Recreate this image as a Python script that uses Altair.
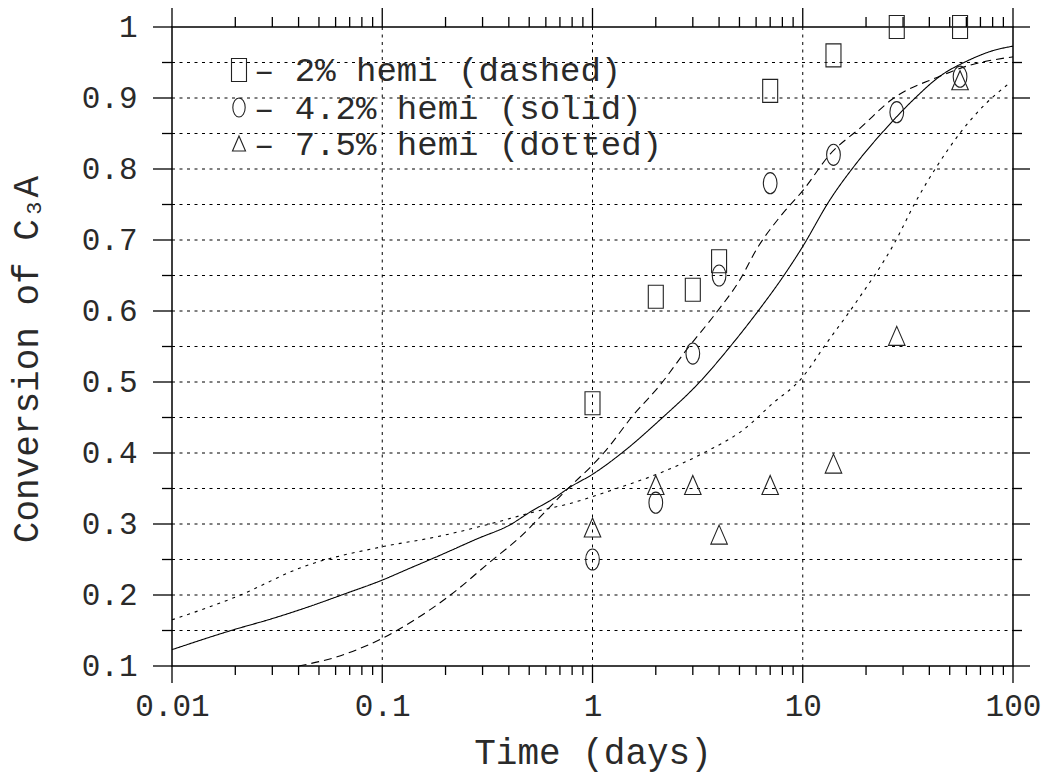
import altair as alt
import pandas as pd

# ---------------- tick / grid values ----------------
x_major = [0.01, 0.1, 1, 10, 100]
x_minor = [0.02, 0.03, 0.04, 0.05, 0.06, 0.07, 0.08, 0.09,
           0.2, 0.3, 0.4, 0.5, 0.6, 0.7, 0.8, 0.9,
           2, 3, 4, 5, 6, 7, 8, 9,
           20, 30, 40, 50, 60, 70, 80, 90]
x_grid = [0.1, 1, 10]
y_major = [0.1, 0.2, 0.3, 0.4, 0.5, 0.6, 0.7, 0.8, 0.9, 1.0]
y_minor = [0.15, 0.25, 0.35, 0.45, 0.55, 0.65, 0.75, 0.85, 0.95]
y_grid = [0.15, 0.2, 0.25, 0.3, 0.35, 0.4, 0.45, 0.5, 0.55, 0.6,
          0.65, 0.7, 0.75, 0.8, 0.85, 0.9, 0.95]

# ---------------- measured points ----------------
series = ["2% hemi", "4.2% hemi", "7.5% hemi"]
days = [1, 2, 3, 4, 7, 14, 28, 56]
conv_2 = [0.47, 0.62, 0.63, 0.67, 0.91, 0.96, 1.0, 1.0]
conv_42 = [0.25, 0.33, 0.54, 0.65, 0.78, 0.82, 0.88, 0.93]
conv_75 = [0.295, 0.355, 0.355, 0.285, 0.355, 0.385, 0.565, 0.925]

# ---------------- model curves ----------------
t_dashed = [0.04, 0.061, 0.1, 0.146, 0.211, 0.327, 0.454, 0.608, 0.783, 1.0,
            1.13, 1.57, 2.10, 2.81, 3.77, 5.05, 6.06, 7.81, 10.1, 13.5,
            18.8, 27.1, 43.5, 60.4, 100]
v_dashed = [0.100, 0.113, 0.139, 0.167, 0.200, 0.247, 0.282, 0.320, 0.353, 0.383,
            0.400, 0.454, 0.496, 0.546, 0.593, 0.645, 0.688, 0.733, 0.771, 0.821,
            0.858, 0.900, 0.929, 0.945, 0.958]

t_solid = [0.01, 0.0196, 0.0294, 0.0423, 0.0655, 0.1, 0.136, 0.182, 0.282, 0.406,
           0.506, 0.653, 0.783, 1.0, 1.46, 2.10, 3.26, 4.52, 6.28, 7.96,
           9.91, 13.5, 18.1, 25.2, 33.7, 45.1, 60.4, 80.9, 100]
v_solid = [0.123, 0.151, 0.166, 0.181, 0.201, 0.221, 0.238, 0.254, 0.279, 0.299,
           0.317, 0.336, 0.352, 0.370, 0.406, 0.447, 0.501, 0.550, 0.604, 0.646,
           0.689, 0.757, 0.809, 0.859, 0.898, 0.931, 0.952, 0.967, 0.973]

t_dotted = [0.01, 0.0204, 0.0423, 0.1, 0.182, 0.315, 0.544, 0.783, 1.3, 2.10,
            3.37, 5.23, 7.27, 9.73, 13.0, 18.1, 27.1, 34.9, 43.5, 56.1,
            69.8, 97.0]
v_dotted = [0.165, 0.198, 0.240, 0.268, 0.282, 0.299, 0.318, 0.329, 0.350, 0.372,
            0.400, 0.433, 0.471, 0.503, 0.555, 0.614, 0.694, 0.757, 0.804, 0.851,
            0.884, 0.922]

legend_labels = ["– 2% hemi (dashed)", "– 4.2% hemi (solid)", "– 7.5% hemi (dotted)"]

# ---------------- styling ----------------
W, H = 841, 639
FONT = "Liberation Mono"
INK = "#2a2a2a"
RECT = "M-0.652,-1L0.652,-1L0.652,1L-0.652,1Z"
ELLIPSE = "M-0.65,0A0.65,1 0 1,1 0.65,0A0.65,1 0 1,1 -0.65,0Z"
TRI = "M0,-1L0.87,1L-0.87,1Z"
shapes = [RECT, ELLIPSE, TRI]
sizes = [529, 361, 225]
dashes = [[8, 5], [1, 0], [3, 5]]

xscale = alt.Scale(type="log", domain=[0.01, 100], nice=False)
yscale = alt.Scale(domain=[0.1, 1.0], nice=False, zero=False)

xaxis = alt.Axis(values=x_major, format="~g", ticks=False, domain=False, grid=False,
                 labelFont=FONT, labelFontSize=31, labelColor=INK, labelPadding=25,
                 labelFlush=False, labelOverlap=False,
                 title="Time (days)", titleFont=FONT, titleFontSize=36,
                 titleFontWeight="normal", titleColor=INK, titleBaseline="alphabetic",
                 titleY=97)
yaxis = alt.Axis(values=y_major, format="~g", ticks=False, domain=False, grid=False,
                 labelFont=FONT, labelFontSize=31, labelColor=INK, labelPadding=35,
                 labelFlush=False, labelOverlap=False,
                 title="Conversion of C₃A", titleFont=FONT, titleFontSize=36,
                 titleFontWeight="normal", titleColor=INK, titleBaseline="alphabetic",
                 titleX=-135, titleY=332)

X = alt.X("t:Q", scale=xscale, axis=xaxis)
Y = alt.Y("v:Q", scale=yscale, axis=yaxis)

# ---------------- data frames ----------------
curves = pd.concat([
    pd.DataFrame({"t": t_dashed, "v": v_dashed, "s": series[0]}),
    pd.DataFrame({"t": t_solid, "v": v_solid, "s": series[1]}),
    pd.DataFrame({"t": t_dotted, "v": v_dotted, "s": series[2]}),
])
points = pd.concat([
    pd.DataFrame({"t": days, "v": conv_2, "s": series[0]}),
    pd.DataFrame({"t": days, "v": conv_42, "s": series[1]}),
    pd.DataFrame({"t": days, "v": conv_75, "s": series[2]}),
])

layers = []

# grid
layers.append(alt.Chart(pd.DataFrame({"v": y_grid})).mark_rule(
    color="#000", strokeWidth=1, strokeDash=[3, 4.5]).encode(
    y=Y, x=alt.value(0), x2=alt.value(W)))
layers.append(alt.Chart(pd.DataFrame({"t": x_grid})).mark_rule(
    color="#000", strokeWidth=1, strokeDash=[3, 4.5]).encode(
    x=X, y=alt.value(0), y2=alt.value(H)))

# ticks (outward on all four sides)
def xticks(vals, y0, y1):
    return alt.Chart(pd.DataFrame({"t": vals})).mark_rule(color="#000", strokeWidth=1.3).encode(
        x=X, y=alt.value(y0), y2=alt.value(y1))

def yticks(vals, x0, x1):
    return alt.Chart(pd.DataFrame({"v": vals})).mark_rule(color="#000", strokeWidth=1.3).encode(
        y=Y, x=alt.value(x0), x2=alt.value(x1))

layers += [
    xticks(x_major, H, H + 17), xticks(x_minor, H, H + 9),
    xticks(x_major, 0, -19), xticks(x_minor, 0, -10),
    yticks(y_major, 0, -19), yticks(y_minor, 0, -10),
    yticks(y_major, W, W + 17), yticks(y_minor, W, W + 9),
]

# curves
layers.append(alt.Chart(curves).mark_line(color="#000", strokeWidth=1.1, interpolate="monotone").encode(
    x=X, y=Y,
    strokeDash=alt.StrokeDash("s:N", scale=alt.Scale(domain=series, range=dashes), legend=None),
    detail="s:N"))

# measured points
layers.append(alt.Chart(points).mark_point(filled=False, color="#222", strokeWidth=1.1, opacity=1).encode(
    x=X, y=Y,
    shape=alt.Shape("s:N", scale=alt.Scale(domain=series, range=shapes), legend=None),
    size=alt.Size("s:N", scale=alt.Scale(domain=series, range=sizes), legend=None)))

# in-plot legend
leg_y = [43, 80.5, 116.5]
for i in range(3):
    df = pd.DataFrame({"label": [legend_labels[i]]})
    layers.append(alt.Chart(df).mark_point(filled=False, color="#222", strokeWidth=1.1, opacity=1,
                                           shape=shapes[i], size=sizes[i]).encode(
        x=alt.value(67), y=alt.value(leg_y[i])))
    layers.append(alt.Chart(df).mark_text(font=FONT, fontSize=34, color=INK, align="left",
                                          baseline="middle").encode(
        x=alt.value(82), y=alt.value(leg_y[i] + 1), text="label:N"))

chart = alt.layer(*layers).properties(
    width=W, height=H,
    autosize=alt.AutoSizeParams(type="none"),
    padding={"left": 172, "top": 27, "right": 36, "bottom": 110},
    background="white",
).configure_view(stroke="#000", strokeWidth=1.5)

chart.save("out.html", embed_options={"renderer": "svg", "actions": False})
